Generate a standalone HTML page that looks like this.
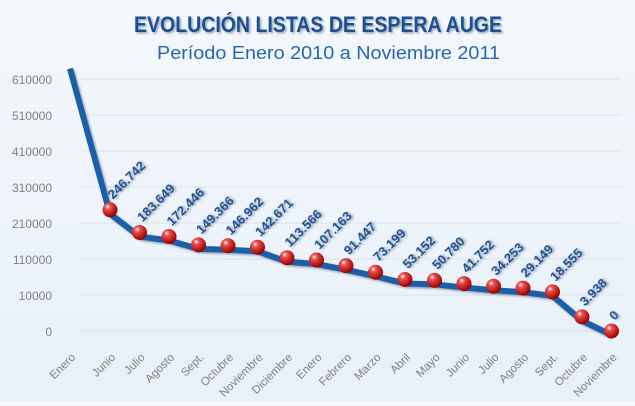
<!DOCTYPE html>
<html><head><meta charset="utf-8"><style>
html,body{margin:0;padding:0}
body{width:635px;height:401px;overflow:hidden;background:linear-gradient(#f4f8fc,#e8f0f8);font-family:"Liberation Sans",sans-serif}
</style></head><body>
<svg id="chart" width="635" height="401" viewBox="0 0 635 401" xmlns="http://www.w3.org/2000/svg">
<defs>
<radialGradient id="ball" cx="0.35" cy="0.3" r="0.7">
<stop offset="0" stop-color="#fff"/><stop offset="0.25" stop-color="#f05050"/><stop offset="1" stop-color="#900"/>
</radialGradient>
<filter id="sh"><feDropShadow dx="1.5" dy="1.5" stdDeviation="1" flood-color="#7a8ca0" flood-opacity="0.8"/></filter>
</defs>
<text x="134" y="32" textLength="368" lengthAdjust="spacingAndGlyphs" font-size="22" font-weight="bold" fill="#1f4f8f" filter="url(#sh)">EVOLUCIÓN LISTAS DE ESPERA AUGE</text>
<text x="157" y="59" textLength="343" lengthAdjust="spacingAndGlyphs" font-size="18" fill="#2866b0">Período Enero 2010 a Noviembre 2011</text>
<g id="grid"></g><g id="ylab"></g><g id="line"></g><g id="pts"></g><g id="vals"></g><g id="xlab"></g>
</svg>
<script>
const categories=["Enero","Junio","Julio","Agosto","Sept.","Octubre","Noviembre","Diciembre","Enero","Febrero","Marzo","Abril","Mayo","Junio","Julio","Agosto","Sept.","Octubre","Noviembre"];
const values=[650000,246742,183649,172446,149366,146962,142671,113566,107163,91447,73199,53152,50780,41752,34253,29149,18555,3938,0];
const valueLabels=[null,"246.742","183.649","172.446","149.366","146.962","142.671","113.566","107.163","91.447","73.199","53.152","50.780","41.752","34.253","29.149","18.555","3.938","0"];
const yTicks=[0,10000,110000,210000,310000,410000,510000,610000];
const NS="http://www.w3.org/2000/svg";
function mk(t,a,p){const e=document.createElementNS(NS,t);for(const k in a)e.setAttribute(k,a[k]);p.appendChild(e);return e;}
function y(v){return v<=10000?331-v/10000*36:295-(v-10000)/100000*36;}
function x(i){return i===0?70:110+(i-1)*29.5;}
const g=document.getElementById('grid'),yl=document.getElementById('ylab');
yTicks.forEach(t=>{
 const l=mk('line',{x1:80,x2:622,y1:y(t),y2:y(t),stroke:'#d8e2ec','stroke-width':1},g);
 
 
 const tx=mk('text',{x:52,y:y(t)+5,'text-anchor':'end','font-size':12,fill:'#7f7f7f'},yl);
 tx.textContent=t;
 
 
});
const pts=values.map((v,i)=>[x(i),y(v)+4]);
const pl=mk('polyline',{points:pts.map(p=>p.join(',')).join(' '),fill:'none',stroke:'#1f5fa8','stroke-width':6,'stroke-linejoin':'round',filter:'url(#sh)'},document.getElementById('line'));


const pg=document.getElementById('pts'),vg=document.getElementById('vals'),xg=document.getElementById('xlab');
values.forEach((v,i)=>{
 if(i>0){
  const c=mk('circle',{cx:x(i),cy:y(v),r:7.5,fill:'url(#ball)'},pg);
  
  
  const t=mk('text',{transform:`translate(${x(i)+3},${y(v)-10}) rotate(-45)`,'font-size':13,'font-weight':'bold',fill:'#1f4f8f',filter:'url(#sh)'},vg);
  t.textContent=valueLabels[i];
  
  
 }
 const xt=mk('text',{transform:`translate(${x(i)+6},${358}) rotate(-45)`,'text-anchor':'end','font-size':11.5,fill:'#7f7f7f'},xg);
 xt.textContent=categories[i];
 
 
});
</script>
</body></html>
